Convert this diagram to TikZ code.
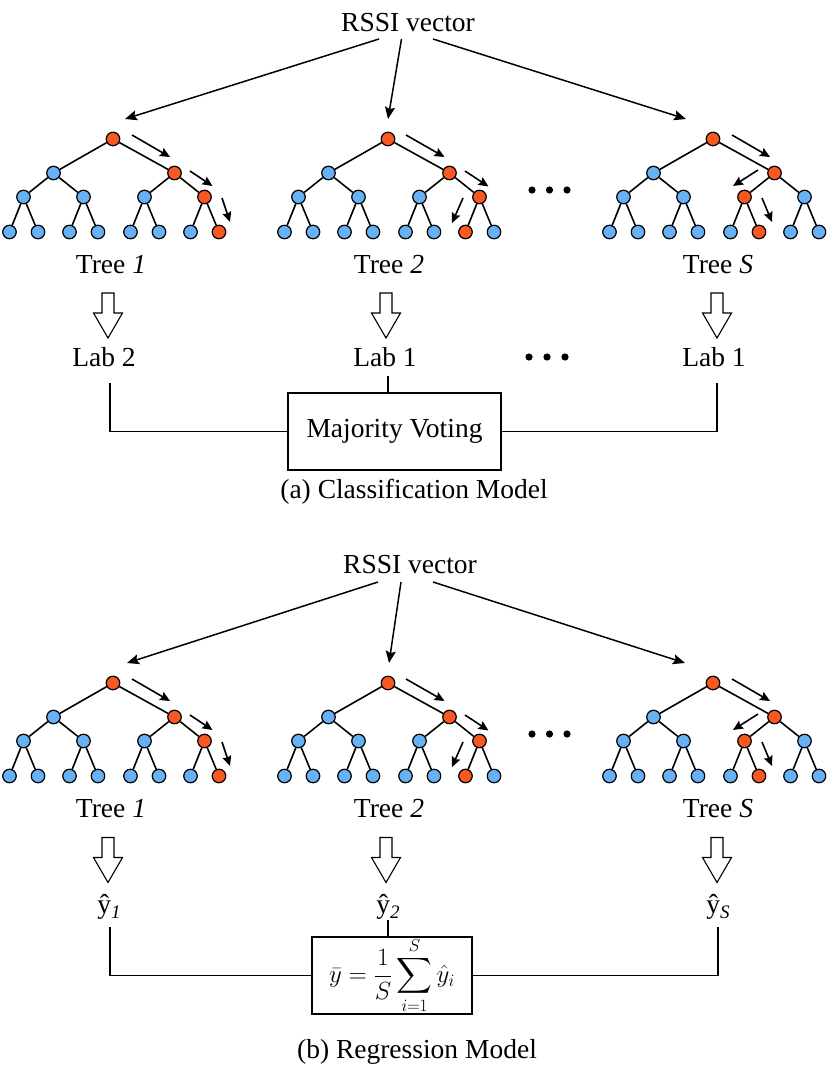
\documentclass[tikz,border=0pt]{standalone}
\usepackage{amsmath}
\usepackage[no-math]{fontspec}
\setmainfont{Liberation Serif}
\usetikzlibrary{arrows.meta, positioning, calc}

\definecolor{knotblue}{RGB}{102,178,245}
\definecolor{knotred}{RGB}{250,88,35}

% one decision tree: #1 name, #2 root, #3 red inner node, #4 red leaf
\newcommand{\rftree}[4]{%
  \begin{scope}[shift={#2}]
    \node[knot, fill=knotred] (#1-r) at (0,0) {};
    \node[knot] (#1-a1) at (-59.5,-34) {};
    \node[knot, fill=knotred] (#1-a2) at (61.5,-34) {};
    \foreach \i/\x in {1/-89.5, 2/-29.5, 3/31.5, 4/91.5} {
      \ifnum\i=#3\relax\def\kc{knotred}\else\def\kc{knotblue}\fi
      \node[knot, fill=\kc] (#1-b\i) at (\x,-58) {};
    }
    \foreach \i/\x in {1/-103.5, 2/-75, 3/-43.5, 4/-15, 5/17.5, 6/46, 7/77.5, 8/106} {
      \ifnum\i=#4\relax\def\kc{knotred}\else\def\kc{knotblue}\fi
      \node[knot, fill=\kc] (#1-c\i) at (\x,-93) {};
    }
  \end{scope}
  \draw[branch] (#1-r) -- (#1-a1);
  \draw[branch] (#1-r) -- (#1-a2);
  \foreach \i/\p in {1/1, 2/1, 3/2, 4/2} \draw[branch] (#1-a\p) -- (#1-b\i);
  \foreach \i/\p in {1/1, 2/1, 3/2, 4/2, 5/3, 6/3, 7/4, 8/4} \draw[branch] (#1-b\p) -- (#1-c\i);
}

\begin{document}
\begin{tikzpicture}[x=1pt, y=1pt,
    txt/.style={font=\fontsize{27.5}{30}\selectfont, inner sep=0pt, anchor=base},
    knot/.style={circle, draw=black, line width=1.2pt, fill=knotblue, minimum size=13.5pt, inner sep=0pt},
    branch/.style={line width=1.6pt},
    walk/.style={-{Stealth[length=10pt, width=9pt, inset=1.5pt]}, line width=1.6pt},
    feed/.style={-{Stealth[length=12pt, width=10pt, inset=2pt]}, line width=1.5pt},
    hollowarrow/.pic={\draw[line width=1.1pt, line join=miter, fill=white]
      (-6,22.5) -- (-6,2.5) -- (-14.5,2.5) -- (0,-22.5) -- (14.5,2.5) -- (6,2.5) -- (6,22.5) -- cycle;},
    votebox/.style={rectangle, draw=black, line width=1.1pt, minimum width=213pt, minimum height=77pt, inner sep=0pt, font=\fontsize{27.5}{30}\selectfont},
    wire/.style={line width=1.1pt},
  ]
  \useasboundingbox (0,0) rectangle (830,-1071);

  % (a) classification
  \node[txt] (rssia) at (408,-31) {RSSI vector};

  \rftree{ta1}{(113,-139)}{4}{8}
  \rftree{ta2}{(388,-139)}{4}{7}
  \rftree{ta3}{(713,-139)}{3}{6}

  \draw[feed] ($(rssia.base)+(-29,-8)$) -- ($(ta1-r)+(12,20)$);
  \draw[feed] ($(rssia.base)+(-6.5,-8)$) -- ($(ta2-r)+(0,20)$);
  \draw[feed] ($(rssia.base)+(25,-8)$) -- ($(ta3-r)+(-27,20)$);

  % paths through the trees
  \draw[walk] ($(ta1-r)+(19,4)$) -- ($(ta1-a2)+(-4.5,16)$);
  \draw[walk] ($(ta1-a2)+(15.5,2)$) -- ($(ta1-b4)+(8,11)$);
  \draw[walk] ($(ta1-b4)+(17.5,-1)$) -- ($(ta1-c8)+(11,10)$);
  \draw[walk] ($(ta2-r)+(18,4)$) -- ($(ta2-a2)+(-5,16)$);
  \draw[walk] ($(ta2-a2)+(15.5,2)$) -- ($(ta2-b4)+(9,10.5)$);
  \draw[walk] ($(ta2-b4)+(-16.5,-1)$) -- ($(ta2-c7)+(-13.5,9)$);
  \draw[walk] ($(ta3-r)+(19,4)$) -- ($(ta3-a2)+(-4.5,16)$);
  \draw[walk] ($(ta3-a2)+(-16.5,3)$) -- ($(ta3-b3)+(-11.5,11)$);
  \draw[walk] ($(ta3-b3)+(17.5,-1)$) -- ($(ta3-c6)+(13,10)$);

  \foreach \x in {532,549.5,567} \fill (\x,-190) circle (3.6pt);

  \node[txt] (namea1) at (111,-273) {Tree \textit{1}};
  \node[txt] (namea2) at (389,-273) {Tree \textit{2}};
  \node[txt] (namea3) at (718,-273) {Tree \textit{S}};

  \pic (hola1) at (108,-315.5) {hollowarrow};
  \pic (hola2) at (386,-315.5) {hollowarrow};
  \pic (hola3) at (717,-315.5) {hollowarrow};

  \node[txt] (lab1) at (104,-366) {Lab 2};
  \node[txt] (lab2) at (385,-366) {Lab 1};
  \node[txt] (lab3) at (714,-366) {Lab 1};
  \foreach \x in {529,547,565} \fill (\x,-357) circle (3.6pt);

  \node[votebox] (vote) at (394.5,-431.5) {Majority Voting};
  \coordinate (wa1) at (110,-383);
  \coordinate (wa2) at (388,-376);
  \coordinate (wa3) at (717,-383);
  \draw[wire] (wa1) |- (vote.west);
  \draw[wire] (wa2) -- (wa2 |- vote.north);
  \draw[wire] (wa3) |- (vote.east);

  \node[txt] (capa) at (414,-498) {(a) Classification Model};

  % (b) regression
  \node[txt] (rssib) at (410,-573) {RSSI vector};

  \rftree{tb1}{(113,-683)}{4}{8}
  \rftree{tb2}{(388,-683)}{4}{7}
  \rftree{tb3}{(713,-683)}{3}{6}

  \draw[feed] ($(rssib.base)+(-32,-9)$) -- ($(tb1-r)+(14,20)$);
  \draw[feed] ($(rssib.base)+(-9,-9)$) -- ($(tb2-r)+(1,20)$);
  \draw[feed] ($(rssib.base)+(23,-9)$) -- ($(tb3-r)+(-28,20)$);

  % paths through the trees
  \draw[walk] ($(tb1-r)+(19,4)$) -- ($(tb1-a2)+(-4.5,16)$);
  \draw[walk] ($(tb1-a2)+(15.5,2)$) -- ($(tb1-b4)+(8,11)$);
  \draw[walk] ($(tb1-b4)+(17.5,-1)$) -- ($(tb1-c8)+(11,10)$);
  \draw[walk] ($(tb2-r)+(18,4)$) -- ($(tb2-a2)+(-5,16)$);
  \draw[walk] ($(tb2-a2)+(15.5,2)$) -- ($(tb2-b4)+(9,10.5)$);
  \draw[walk] ($(tb2-b4)+(-16.5,-1)$) -- ($(tb2-c7)+(-13.5,9)$);
  \draw[walk] ($(tb3-r)+(19,4)$) -- ($(tb3-a2)+(-4.5,16)$);
  \draw[walk] ($(tb3-a2)+(-16.5,3)$) -- ($(tb3-b3)+(-11.5,11)$);
  \draw[walk] ($(tb3-b3)+(17.5,-1)$) -- ($(tb3-c6)+(13,10)$);

  \foreach \x in {532,549.5,567} \fill (\x,-734) circle (3.6pt);

  \node[txt] (nameb1) at (111,-817) {Tree \textit{1}};
  \node[txt] (nameb2) at (389,-817) {Tree \textit{2}};
  \node[txt] (nameb3) at (718,-817) {Tree \textit{S}};

  \pic (holb1) at (108,-860) {hollowarrow};
  \pic (holb2) at (386,-860) {hollowarrow};
  \pic (holb3) at (717,-860) {hollowarrow};

  \node[txt] (est1) at (109,-913) {ŷ\raisebox{-5pt}{\fontsize{19}{20}\selectfont\textit{1}}};
  \node[txt] (est2) at (388,-913) {ŷ\raisebox{-5pt}{\fontsize{19}{20}\selectfont\textit{2}}};
  \node[txt] (est3) at (718,-913) {ŷ\raisebox{-5pt}{\fontsize{19}{20}\selectfont\textit{S}}};

  \node[votebox, minimum width=160pt, minimum height=75pt] (mean) at (392,-975.5)
    {\fontsize{25}{30}\selectfont$\displaystyle \bar{y}=\frac{1}{S}\sum_{i=1}^{S}\hat{y}_i$};
  \coordinate (wb1) at (110,-927);
  \coordinate (wb2) at (388,-920);
  \coordinate (wb3) at (718,-927);
  \draw[wire] (wb1) |- (mean.west);
  \draw[wire] (wb2) -- (wb2 |- mean.north);
  \draw[wire] (wb3) |- (mean.east);

  \node[txt] (capb) at (417,-1058) {(b) Regression Model};

\end{tikzpicture}
\end{document}
